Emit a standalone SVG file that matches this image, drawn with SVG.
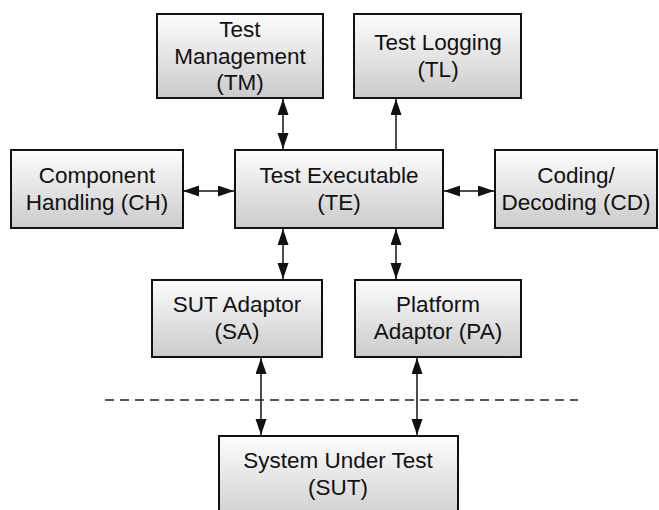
<svg xmlns="http://www.w3.org/2000/svg" width="659" height="510" viewBox="0 0 659 510">
  <defs>
    <linearGradient id="boxFill" x1="0" y1="0" x2="0" y2="1">
      <stop offset="0" stop-color="#fdfdfd"/>
      <stop offset="1" stop-color="#cbcbcb"/>
    </linearGradient>
    <marker id="head" markerUnits="userSpaceOnUse" markerWidth="17" markerHeight="12" refX="16" refY="5.5" orient="auto-start-reverse">
      <path d="M0,0 L16,5.5 L0,11 Z" fill="#111"/>
    </marker>
    <style>
      .box { fill: url(#boxFill); stroke: #111; stroke-width: 2; }
      .lbl { font-family: "Liberation Sans", Arial, sans-serif; font-size: 22.5px; fill: #111; text-anchor: middle; }
      .link { stroke: #111; stroke-width: 1.5; fill: none; }
      .both { marker-start: url(#head); marker-end: url(#head); }
      .one { marker-end: url(#head); }
      .boundary { stroke: #222; stroke-width: 1.5; stroke-dasharray: 9 6; fill: none; }
    </style>
  </defs>

  <g id="connectors">
    <line class="link both" x1="283" y1="99" x2="283" y2="149"/>
    <line class="link one" x1="396" y1="149" x2="396" y2="99"/>
    <line class="link both" x1="183" y1="191" x2="234" y2="191"/>
    <line class="link both" x1="444" y1="191" x2="494" y2="191"/>
    <line class="link both" x1="283" y1="229" x2="283" y2="279"/>
    <line class="link both" x1="396" y1="229" x2="396" y2="279"/>
    <line class="link both" x1="261" y1="358" x2="261" y2="435"/>
    <line class="link both" x1="417" y1="358" x2="417" y2="435"/>
    <line class="boundary" x1="105" y1="400" x2="578" y2="400"/>
  </g>

  <g id="TM">
    <rect class="box" x="157" y="14" width="166" height="84"/>
    <text class="lbl" x="240" y="37">Test</text>
    <text class="lbl" x="240" y="64">Management</text>
    <text class="lbl" x="240" y="90">(TM)</text>
  </g>

  <g id="TL">
    <rect class="box" x="354" y="14" width="167" height="84"/>
    <text class="lbl" x="438" y="50">Test Logging</text>
    <text class="lbl" x="438" y="77">(TL)</text>
  </g>

  <g id="CH">
    <rect class="box" x="11" y="150" width="172" height="78"/>
    <text class="lbl" x="97" y="183">Component</text>
    <text class="lbl" x="97" y="210">Handling (CH)</text>
  </g>

  <g id="TE">
    <rect class="box" x="235" y="150" width="208" height="78"/>
    <text class="lbl" x="339" y="183">Test Executable</text>
    <text class="lbl" x="339" y="210">(TE)</text>
  </g>

  <g id="CD">
    <rect class="box" x="495" y="150" width="162" height="78"/>
    <text class="lbl" x="576" y="183">Coding/</text>
    <text class="lbl" x="576" y="210">Decoding (CD)</text>
  </g>

  <g id="SA">
    <rect class="box" x="152" y="280" width="170" height="77"/>
    <text class="lbl" x="237" y="312">SUT Adaptor</text>
    <text class="lbl" x="237" y="339">(SA)</text>
  </g>

  <g id="PA">
    <rect class="box" x="355" y="280" width="166" height="77"/>
    <text class="lbl" x="438" y="312">Platform</text>
    <text class="lbl" x="438" y="339">Adaptor (PA)</text>
  </g>

  <g id="SUT">
    <rect class="box" x="219" y="436" width="239" height="90"/>
    <text class="lbl" x="338" y="468">System Under Test</text>
    <text class="lbl" x="338" y="495">(SUT)</text>
  </g>
</svg>
